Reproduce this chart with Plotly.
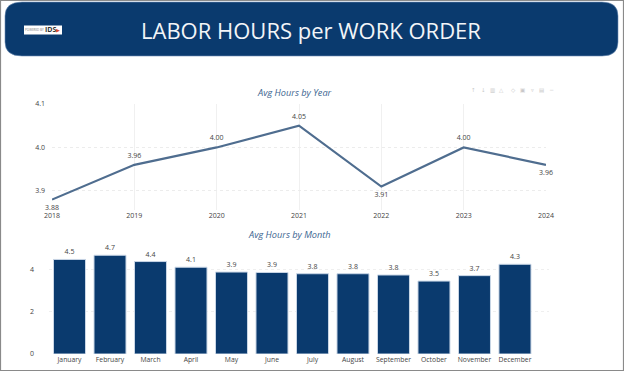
import plotly.graph_objects as go

years = ["2018", "2019", "2020", "2021", "2022", "2023", "2024"]
avg_by_year = [3.88, 3.96, 4.00, 4.05, 3.91, 4.00, 3.96]
year_labels = ["3.88", "3.96", "4.00", "4.05", "3.91", "4.00", "3.96"]
year_label_pos = ["bottom center", "top center", "top center", "top center",
                  "bottom center", "top center", "bottom center"]
months = ["January", "February", "March", "April", "May", "June", "July",
          "August", "September", "October", "November", "December"]
avg_by_month = [4.5, 4.7, 4.4, 4.13, 3.9, 3.88, 3.82, 3.82, 3.76, 3.47, 3.73, 4.27]
month_labels = ["4.5", "4.7", "4.4", "4.1", "3.9", "3.9", "3.8", "3.8", "3.8", "3.5", "3.7", "4.3"]
toolbar_icons = ["↑", "↓", "▥", "△", "◇", "▣", "▿", "▤", "─"]
toolbar_x = [473, 483, 492, 501, 513, 522, 532, 541, 551]

W, H = 624, 371
NAVY = "#0a3a6e"
FONT = "Open Sans"
def px(x): return x / W
def py(y): return 1 - y / H

fig = go.Figure()
fig.add_trace(go.Scatter(
    x=list(range(len(years))), y=avg_by_year, mode="lines+markers+text",
    text=year_labels, textposition=year_label_pos,
    textfont=dict(size=7, color="#444444", family=FONT),
    marker=dict(size=7, color="rgba(0,0,0,0)"),
    line=dict(color="#4f6d8f", width=2.2), xaxis="x", yaxis="y", cliponaxis=False,
    showlegend=False))
fig.add_trace(go.Bar(
    x=months, y=avg_by_month, text=month_labels, textposition="outside",
    textfont=dict(size=7, color="#444444", family=FONT),
    marker=dict(color=NAVY, line=dict(color="#c9d6e6", width=1)), width=0.79,
    xaxis="x2", yaxis="y2", cliponaxis=False, showlegend=False))

shapes = [
    dict(type="path", xref="paper", yref="paper", layer="below",
         path=f"M {px(22)} {py(2)} L {px(602)} {py(2)} Q {px(618)} {py(2)} {px(618)} {py(16)} "
              f"L {px(618)} {py(42)} Q {px(618)} {py(56)} {px(602)} {py(56)} "
              f"L {px(22)} {py(56)} Q {px(5)} {py(56)} {px(5)} {py(42)} "
              f"L {px(5)} {py(16)} Q {px(5)} {py(2)} {px(22)} {py(2)} Z",
         fillcolor=NAVY, line=dict(color="#6f8fb5", width=0.6)),
    dict(type="rect", xref="paper", yref="paper", x0=px(24), x1=px(62), y0=py(34.5), y1=py(25.5),
         fillcolor="white", line=dict(width=0), layer="below"),
    dict(type="rect", xref="paper", yref="paper", x0=px(0.5), x1=px(623.5), y0=py(370.5), y1=py(0.5),
         line=dict(color="#8a8a8a", width=1.2)),
]

def note(text, x, y, size, color, family=FONT):
    return dict(text=text, xref="paper", yref="paper", x=px(x), y=py(y),
                xanchor="center", yanchor="middle", showarrow=False,
                font=dict(size=size, color=color, family=family))

annotations = [
    note("LABOR HOURS per WORK ORDER", 311, 30, 22, "#f2f5f8"),
    note("POWERED BY", 34, 30, 3, "#777777"),
    note("<b>IDS</b>", 50, 30, 7, "#333333"),
    note("▶", 58, 30, 5, "#d9482b"),
    note("<i>Avg Hours by Year</i>", 294.5, 92, 9.2, "#3b6590"),
    note("<i>Avg Hours by Month</i>", 289, 234, 9.2, "#3b6590"),
]
annotations += [note(i, x, 90, 5.5, "#c8c8c8", "DejaVu Sans") for i, x in zip(toolbar_icons, toolbar_x)]

fig.update_layout(
    width=W, height=H, autosize=False, margin=dict(l=0, r=0, t=0, b=0, pad=0, autoexpand=False),
    paper_bgcolor="white", plot_bgcolor="white",
    font=dict(family=FONT, size=7, color="#444444"),
    shapes=shapes, annotations=annotations, bargap=0.2,
    xaxis=dict(domain=[px(52), px(546)], range=[0, 6], tickmode="array",
               tickvals=list(range(len(years))), ticktext=years, anchor="y",
               showgrid=True, gridcolor="#f0f0f0", zeroline=False, showline=False,
               ticks="", tickfont=dict(size=7, color="#444444")),
    yaxis=dict(domain=[py(210), py(104)], range=[3.856, 4.1], tickvals=[3.9, 4.0, 4.1],
               ticktext=["3.9", "4.0", "4.1"], anchor="free", position=px(45),
               showgrid=True, gridcolor="#ececec", griddash="dot", zeroline=False, showline=False,
               ticks="", tickfont=dict(size=7, color="#444444")),
    xaxis2=dict(domain=[px(49.25), px(549)], range=[-0.5, 11.84], anchor="y2",
                showgrid=False, zeroline=False, showline=False, ticks="",
                tickfont=dict(size=6.8, color="#444444")),
    yaxis2=dict(domain=[py(354), py(250)], range=[0, 4.95], tickvals=[0, 2, 4],
                anchor="free", position=px(34), showgrid=True, gridcolor="#efefef",
                griddash="dot", zeroline=False, showline=False, ticks="",
                tickfont=dict(size=7, color="#444444")),
)
fig.write_html("out.html", config=dict(displayModeBar=False),
               post_script="document.body.style.margin='0';document.body.style.overflow='hidden';")
